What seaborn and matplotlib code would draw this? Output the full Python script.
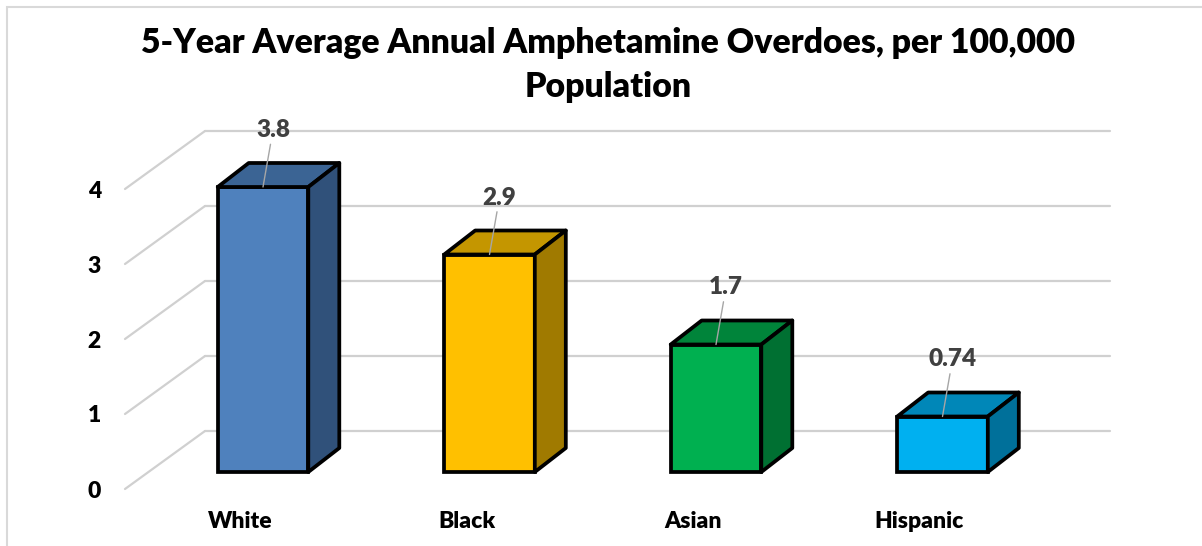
import matplotlib
matplotlib.use("Agg")
import matplotlib.pyplot as plt
import matplotlib.transforms as mtransforms
from matplotlib.patches import Polygon, Rectangle
import seaborn as sns
import pandas as pd

# data
groups = ["White", "Black", "Asian", "Hispanic"]
rates = [3.8, 2.9, 1.7, 0.74]
rate_labels = ["3.8", "2.9", "1.7", "0.74"]
y_ticks = [0, 1, 2, 3, 4]
title = "5-Year Average Annual Amphetamine Overdoes, per 100,000\nPopulation"

front_colors = ["#4F81BD", "#FFC000", "#00B050", "#00B0F0"]
top_colors = ["#3B6494", "#C49600", "#00843A", "#0087B8"]
side_colors = ["#30517A", "#A07A00", "#007032", "#00709A"]

sns.set_theme(style="white")
plt.rcParams["font.family"] = ["Lato", "DejaVu Sans"]

W, H = 1202, 546
fig = plt.figure(figsize=(W / 100, H / 100), dpi=100)

# layout measured on the reference, in pixels
px_y = 75.0        # pixels per unit of value
px_x = 226.5       # pixels between categories
x0_px = 263        # centre of the first bar
base_px = 472      # bar base, from the top
xlim = (-0.75, 3.9)
ylim = (-0.45, 5.5)
left = x0_px + xlim[0] * px_x
right = x0_px + xlim[1] * px_x
bottom = (H - base_px) + ylim[0] * px_y
top = (H - base_px) + ylim[1] * px_y
ax = fig.add_axes([left / W, bottom / H, (right - left) / W, (top - bottom) / H])

df = pd.DataFrame({"group": groups, "rate": rates})
sns.barplot(data=df, x="group", y="rate", hue="group", palette=front_colors,
            saturation=1, width=0.4, edgecolor="black", linewidth=2.7,
            legend=False, ax=ax, zorder=3)

# 3d depth of bars and walls
dx, dy = 31 / px_x, 24 / px_y
wall_front_x = (125 - x0_px) / px_x
wall_back_x = (205 - x0_px) / px_x
wall_end = (1110 - x0_px) / px_x
front_dy = -17 / px_y
back_dy = 41 / px_y

grid_col = "#d0d0d0"
for k in y_ticks:
    ax.plot([wall_front_x, wall_back_x], [k + front_dy, k + back_dy],
            color=grid_col, lw=1.6, zorder=1, solid_capstyle="round")
    ax.plot([wall_back_x, wall_end], [k + back_dy, k + back_dy],
            color=grid_col, lw=1.6, zorder=1, solid_capstyle="round")

for i, bar in enumerate(ax.patches[:len(groups)]):
    x = bar.get_x()
    w = bar.get_width()
    h = bar.get_height()
    top_face = [(x, h), (x + w, h), (x + w + dx, h + dy), (x + dx, h + dy)]
    side_face = [(x + w, 0), (x + w, h), (x + w + dx, h + dy), (x + w + dx, dy)]
    ax.add_patch(Polygon(top_face, closed=True, fc=top_colors[i], ec="black",
                         lw=2.7, joinstyle="round", zorder=3))
    ax.add_patch(Polygon(side_face, closed=True, fc=side_colors[i], ec="black",
                         lw=2.7, joinstyle="round", zorder=3))
    ax.annotate(rate_labels[i], xy=(x + w / 2, h), xytext=(10, 57),
                textcoords="offset pixels", ha="center", va="center",
                fontsize=17.5, fontweight="heavy", color="#404040", zorder=5,
                arrowprops=dict(arrowstyle="-", color="#a6a6a6", lw=1.0,
                                shrinkA=0, shrinkB=0))

ax.set_xlim(*xlim)
ax.set_ylim(*ylim)
ax.set_xlabel("")
ax.set_ylabel("")
sns.despine(ax=ax, left=True, bottom=True)

ax.set_yticks(y_ticks)
ax.set_yticklabels([str(t) for t in y_ticks], fontsize=16.5, fontweight="heavy",
                   color="black")
ax.set_xticks(range(len(groups)))
ax.set_xticklabels(groups, fontsize=16.5, fontweight="heavy", color="black")
ax.tick_params(axis="both", length=0, pad=0)
for lab in ax.get_yticklabels():
    lab.set_transform(lab.get_transform() +
                      mtransforms.ScaledTranslation(8 / 100, -17 / 100, fig.dpi_scale_trans))
for lab in ax.get_xticklabels():
    lab.set_transform(lab.get_transform() +
                      mtransforms.ScaledTranslation(-23 / 100, -5 / 100, fig.dpi_scale_trans))

fig.text(0.506, 0.95, title, ha="center", va="top", fontsize=24.3,
         fontweight="heavy", color="black", linespacing=1.45)

fig.patches.append(Rectangle((7 / W, -0.1), 1.5, (H - 7) / H + 0.1,
                             transform=fig.transFigure, fill=False,
                             ec="#d9d9d9", lw=1.5))

fig.savefig("out.png", dpi=100, facecolor="white")
